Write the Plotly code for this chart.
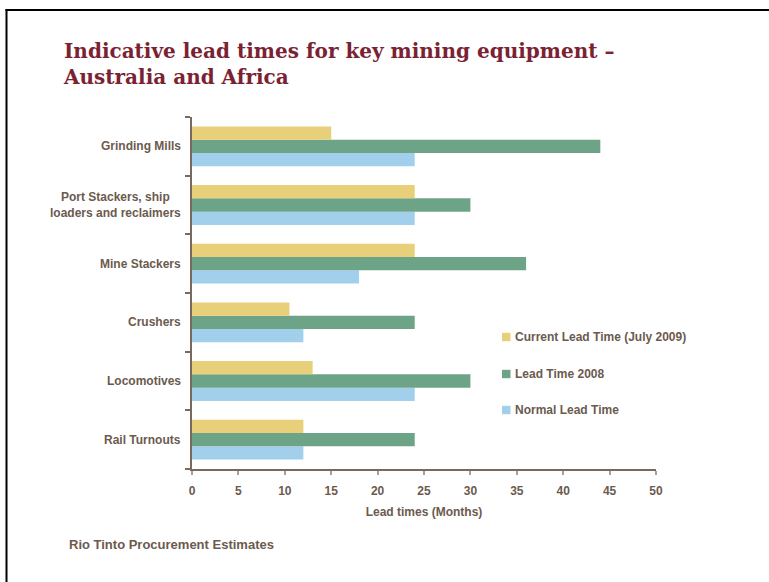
import plotly.graph_objects as go

# Equipment categories, listed top to bottom as they appear on the chart
categories = [
    "Grinding Mills",
    "Port Stackers, ship<br>loaders and reclaimers",
    "Mine Stackers",
    "Crushers",
    "Locomotives",
    "Rail Turnouts",
]

# Lead times in months
current_2009 = [15, 24, 24, 10.5, 13, 12]
lead_2008 = [44, 30, 36, 24, 30, 24]
normal_lead = [24, 24, 18, 12, 24, 12]

series_names = ["Current Lead Time (July 2009)", "Lead Time 2008", "Normal Lead Time"]
x_ticks = [0, 5, 10, 15, 20, 25, 30, 35, 40, 45, 50]

YELLOW = "#E8D07A"
GREEN = "#6DA487"
BLUE = "#A2CFEC"
TEXT = "#6B5A4E"
AXIS = "#7A6A5E"
TITLE = "#7B2232"

W, H = 769, 582
L, R, T, B = 192, 113, 117, 113
PW, PH = W - L - R, H - T - B


def px(x):
    return (x - L) / PW


def py(y):
    return (H - B - y) / PH


fig = go.Figure()
# Horizontal bars: first trace sits lowest inside each group
for name, vals, col in [
    (series_names[2], normal_lead, BLUE),
    (series_names[1], lead_2008, GREEN),
    (series_names[0], current_2009, YELLOW),
]:
    fig.add_trace(go.Bar(
        y=categories, x=vals, name=name, orientation="h",
        marker=dict(color=col, line=dict(width=0)), showlegend=False,
    ))

annotations = []
# Category labels, centred lines, right edge beside the axis
for c in categories:
    annotations.append(dict(
        xref="paper", yref="y", x=0, y=c, xshift=-9, xanchor="right",
        yanchor="middle", align="center", showarrow=False, text=c,
        font=dict(family="Liberation Sans, Arial", size=12, color=TEXT, weight="bold"),
    ))

# Title
annotations.append(dict(
    xref="paper", yref="paper", x=px(61), y=py(64), xanchor="left",
    yanchor="middle", align="left", showarrow=False,
    text="Indicative lead times for key mining equipment –<br>Australia and Africa",
    font=dict(family="DejaVu Serif, Georgia, serif", size=20,
              color=TITLE, weight="bold"),
))

# Source note
annotations.append(dict(
    xref="paper", yref="paper", x=px(67), y=py(544), xanchor="left",
    yanchor="middle", showarrow=False, text="Rio Tinto Procurement Estimates",
    font=dict(family="Liberation Sans, Arial", size=13, color=TEXT, weight="bold"),
))

# Legend entries
shapes = []
legend_rows = [(series_names[0], YELLOW, 337), (series_names[1], GREEN, 374),
               (series_names[2], BLUE, 410)]
for name, col, yc in legend_rows:
    shapes.append(dict(
        type="rect", xref="paper", yref="paper",
        x0=px(502), x1=px(510.5), y0=py(yc + 4.2), y1=py(yc - 4.2),
        fillcolor=col, line=dict(width=0),
    ))
    annotations.append(dict(
        xref="paper", yref="paper", x=px(513), y=py(yc), xanchor="left",
        yanchor="middle", showarrow=False, text=name,
        font=dict(family="Liberation Sans, Arial", size=12, color=TEXT, weight="bold"),
    ))

# Frame lines along the top and left edges
shapes.append(dict(type="line", xref="paper", yref="paper",
                   x0=px(5.5), x1=px(780), y0=py(10), y1=py(10),
                   line=dict(color="black", width=2)))
shapes.append(dict(type="line", xref="paper", yref="paper",
                   x0=px(6.5), x1=px(6.5), y0=py(9), y1=py(600),
                   line=dict(color="black", width=2)))

fig.update_layout(
    width=W, height=H,
    margin=dict(l=L, r=R, t=T, b=B, pad=0),
    paper_bgcolor="white", plot_bgcolor="white",
    barmode="group", bargap=0.32, bargroupgap=0,
    showlegend=False,
    annotations=annotations, shapes=shapes,
    xaxis=dict(
        range=[0, 50], tickvals=x_ticks, ticktext=[str(v) for v in x_ticks],
        showgrid=False, zeroline=False,
        showline=True, linecolor=AXIS, linewidth=1.5,
        ticks="outside", ticklen=4, tickcolor="#A89E96", tickwidth=1.5,
        ticklabelstandoff=6,
        tickfont=dict(family="Liberation Sans, Arial", size=12, color=TEXT, weight="bold"),
        title=dict(text="Lead times (Months)", standoff=10,
                   font=dict(family="Liberation Sans, Arial", size=12, color=TEXT, weight="bold")),
        fixedrange=True,
    ),
    yaxis=dict(
        categoryorder="array", categoryarray=categories[::-1],
        range=[-0.5, len(categories) - 0.5],
        showticklabels=False, showgrid=False, zeroline=False,
        showline=True, linecolor=AXIS, linewidth=1.5,
        ticks="outside", tickson="boundaries", ticklen=5, tickcolor=AXIS, tickwidth=1.5,
        fixedrange=True,
    ),
)

fig.write_html("out.html")
